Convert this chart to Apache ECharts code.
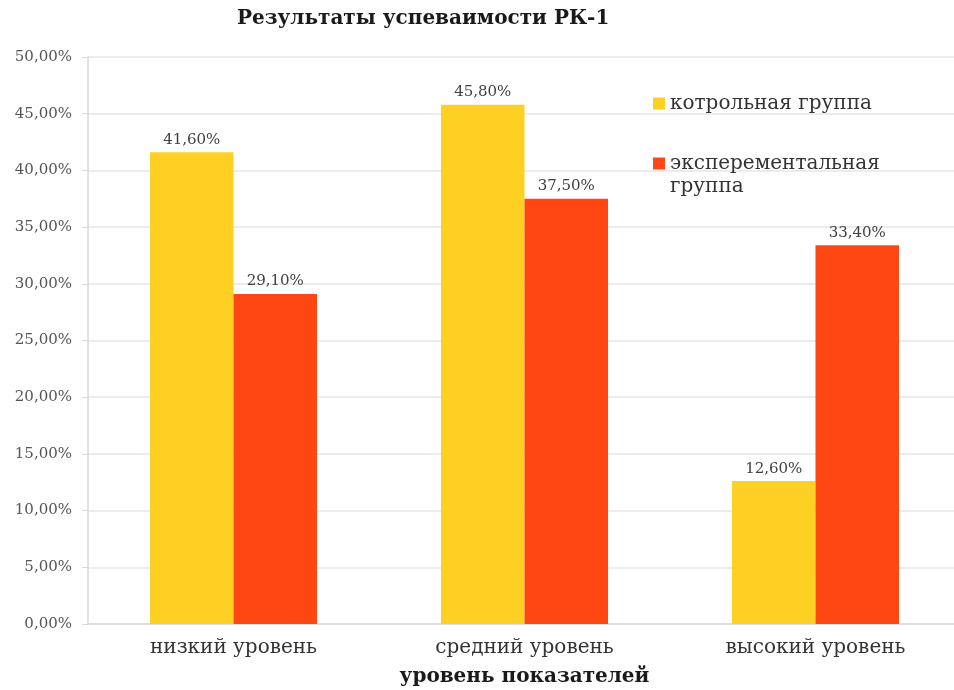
<!DOCTYPE html>
<html>
<head>
<meta charset="utf-8">
<script src="https://cdn.jsdelivr.net/npm/echarts@6/dist/echarts.min.js"></script>
<style>
html,body{margin:0;padding:0;background:#fff;}
#chart{width:954px;height:690px;}
</style>
</head>
<body>
<div id="chart"></div>
<script>
var titleText = 'Результаты успеваимости РК-1';
var categories = ['низкий уровень', 'средний уровень', 'высокий уровень'];
var seriesNames = ['котрольная группа', 'эксперементальная группа'];
var controlValues = [41.6, 45.8, 12.6];
var experimentValues = [29.1, 37.5, 33.4];
var axisName = 'уровень показателей';

var serif = "'DejaVu Serif', 'Liberation Serif', serif";
function pct(v) { return Number(v).toFixed(2).replace('.', ',') + '%'; }

var chart = echarts.init(document.getElementById('chart'));
chart.setOption({
  backgroundColor: '#ffffff',
  animation: false,
  title: {
    text: titleText,
    left: 237,
    top: 9,
    padding: 0,
    textStyle: { fontFamily: serif, fontWeight: 'bold', fontSize: 20, color: '#1a1a1a' }
  },
  legend: {
    orient: 'vertical',
    left: 653,
    top: 92,
    padding: 0,
    itemWidth: 12,
    itemHeight: 12,
    itemGap: 14,
    icon: 'rect',
    formatter: function (n) { return n === seriesNames[1] ? ' \nэксперементальная\nгруппа' : n; },
    textStyle: { fontFamily: serif, fontSize: 20, color: '#333', lineHeight: 23 },
    data: seriesNames
  },
  grid: { left: 88, top: 57, width: 873, height: 567, containLabel: false, outerBoundsMode: 'none' },
  xAxis: {
    type: 'category',
    data: categories,
    name: axisName,
    nameLocation: 'middle',
    nameGap: 43,
    nameTextStyle: { fontFamily: serif, fontWeight: 'bold', fontSize: 20, color: '#1a1a1a' },
    axisLine: { lineStyle: { color: '#d9d9d9', width: 1.5 } },
    axisTick: { show: false },
    axisLabel: { margin: 14, fontFamily: serif, fontSize: 20, color: '#333' }
  },
  yAxis: {
    type: 'value',
    min: 0,
    max: 50,
    interval: 5,
    axisLine: { show: true, lineStyle: { color: '#d9d9d9', width: 1.5 } },
    axisTick: { show: true, length: 6, lineStyle: { color: '#d9d9d9' } },
    splitLine: { lineStyle: { color: '#e6e6e6', width: 1.5 } },
    axisLabel: { margin: 16, fontFamily: serif, fontSize: 15, color: '#555', formatter: pct }
  },
  series: [
    {
      name: seriesNames[0],
      type: 'bar',
      data: controlValues,
      barGap: '0%',
      barCategoryGap: '42.6%',
      itemStyle: { color: '#FDD023' },
      label: { show: true, position: 'top', distance: 5, fontFamily: serif, fontSize: 15, color: '#404040', formatter: function (p) { return pct(p.value); } }
    },
    {
      name: seriesNames[1],
      type: 'bar',
      data: experimentValues,
      barGap: '0%',
      barCategoryGap: '42.6%',
      itemStyle: { color: '#FF4713' },
      label: { show: true, position: 'top', distance: 5, fontFamily: serif, fontSize: 15, color: '#404040', formatter: function (p) { return pct(p.value); } }
    }
  ]
});
</script>
</body>
</html>
